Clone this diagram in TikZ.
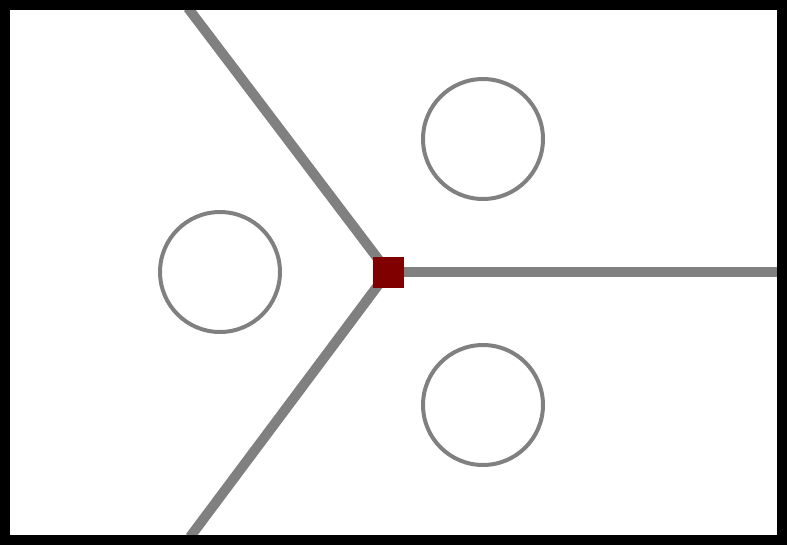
\documentclass[tikz,border=0pt]{standalone}
\usepackage{xcolor}
\definecolor{hubred}{RGB}{128,0,0}
\definecolor{wallgray}{RGB}{128,128,128}

\tikzset{
	wall/.style={wallgray, line width=5.67pt},
	ring/.style={circle, draw=wallgray, line width=2.27pt, minimum size=2.4cm, inner sep=0pt},
	hubbox/.style={rectangle, fill=hubred, minimum size=0.62cm, inner sep=0pt}
}

\begin{document}
\begin{tikzpicture}[x=0.02cm, y=-0.02cm]
			
			\useasboundingbox (0,0) rectangle (787,545);
			\fill[white] (0,0) rectangle (787,545);
			
			\coordinate (hub) at (388,272);
			\coordinate (topend) at (188,8);
			\coordinate (botend) at (190,537);
			\coordinate (rightend) at (779,272);
			
			% the three walls
			\draw[wall] (hub) -- (topend);
			\draw[wall] (hub) -- (botend);
			\draw[wall] (hub) -- (rightend);
			
			\node[hubbox] (hubsq) at (hub) {};
			
			\node[ring] (leftring) at (220,272) {};
			\node[ring] (upring) at (483,139) {};
			\node[ring] (downring) at (483,405) {};
			
			% frame
			\draw[black, line width=5.67pt] (5,5) rectangle (782,540);
			
		\end{tikzpicture}
\end{document}
